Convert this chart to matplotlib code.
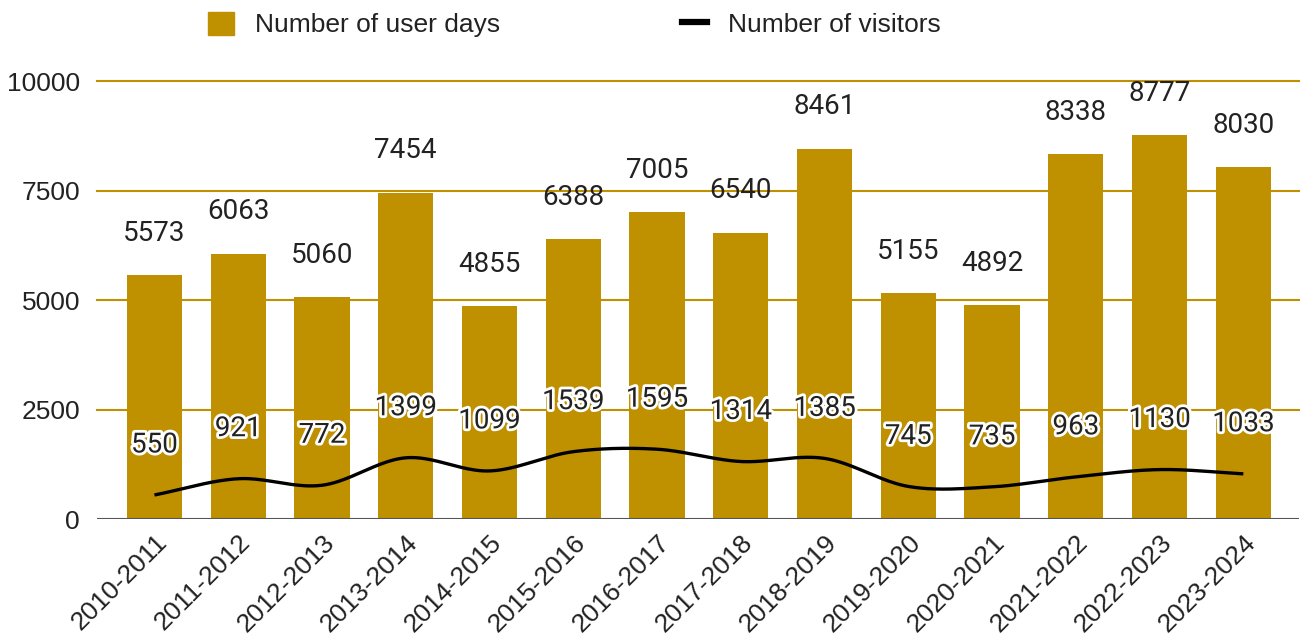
import numpy as np
import matplotlib
matplotlib.use("Agg")
import matplotlib.pyplot as plt
import matplotlib.patheffects as pe
from matplotlib.patches import Patch
from matplotlib.lines import Line2D

seasons = ["2010-2011", "2011-2012", "2012-2013", "2013-2014", "2014-2015",
           "2015-2016", "2016-2017", "2017-2018", "2018-2019", "2019-2020",
           "2020-2021", "2021-2022", "2022-2023", "2023-2024"]
user_days = [5573, 6063, 5060, 7454, 4855, 6388, 7005, 6540, 8461, 5155,
             4892, 8338, 8777, 8030]
visitors = [550, 921, 772, 1399, 1099, 1539, 1595, 1314, 1385, 745,
            735, 963, 1130, 1033]
y_ticks = [0, 2500, 5000, 7500, 10000]

GOLD = "#bf9000"
TXT = "#222222"

fig = plt.figure(figsize=(13.06, 6.44), dpi=100)
ax = fig.add_axes([0.074, 0.194, 0.921, 0.680])

x = np.arange(len(seasons))
ax.bar(x, user_days, width=0.66, color=GOLD, zorder=2)

# smooth curve (cubic Hermite) through the visitor points
yv = np.array(visitors, dtype=float)
m = np.gradient(yv)
xs, ys = [], []
for i in range(len(x) - 1):
    t = np.linspace(0, 1, 40)
    h00 = 2 * t**3 - 3 * t**2 + 1
    h10 = t**3 - 2 * t**2 + t
    h01 = -2 * t**3 + 3 * t**2
    h11 = t**3 - t**2
    xs.append(x[i] + t)
    ys.append(h00 * yv[i] + h10 * m[i] + h01 * yv[i + 1] + h11 * m[i + 1])
ax.plot(np.concatenate(xs), np.concatenate(ys), color="black", lw=2.4,
        zorder=3, solid_capstyle="butt")

for xi, v in zip(x, user_days):
    ax.annotate(str(v), (xi, v), xytext=(0, 30), textcoords="offset points",
                ha="center", va="center", fontsize=20, color=TXT,
                family="Roboto", zorder=5)
for xi, v in zip(x, visitors):
    ax.annotate(str(v), (xi, v), xytext=(0, 36), textcoords="offset points",
                ha="center", va="center", fontsize=20, color=TXT,
                family="Roboto", zorder=5,
                path_effects=[pe.withStroke(linewidth=4, foreground="white")])

ax.set_xlim(-0.69, 13.67)
ax.set_ylim(0, 10000)
ax.set_yticks(y_ticks)
ax.set_yticklabels([str(t) for t in y_ticks], family="Liberation Sans",
                   fontsize=19, color=TXT)
ax.set_xticks(x)
ax.set_xticklabels(seasons, rotation=45, ha="right", rotation_mode="anchor",
                   family="Liberation Sans", fontsize=19, color=TXT)
ax.tick_params(axis="both", length=0, pad=12)
ax.tick_params(axis="x", pad=8)
for s in ax.spines.values():
    s.set_visible(False)
for t in y_ticks[1:]:
    ax.axhline(t, color=GOLD, lw=1.5, zorder=1, clip_on=False)
ax.axhline(0, color="#555555", lw=1.5, zorder=4)

handles = [Patch(facecolor=GOLD, edgecolor=GOLD),
           Line2D([0], [0], color="black", lw=4.5)]
fig.legend(handles, ["Number of user days", "Number of visitors"],
           loc="center", bbox_to_anchor=(0.440, 0.962), ncol=2, frameon=False,
           prop={"family": "Liberation Sans", "size": 19},
           labelcolor=TXT, handlelength=0.95, handleheight=0.95,
           columnspacing=6.9, handletextpad=0.8)

fig.savefig("out.png", dpi=100)
